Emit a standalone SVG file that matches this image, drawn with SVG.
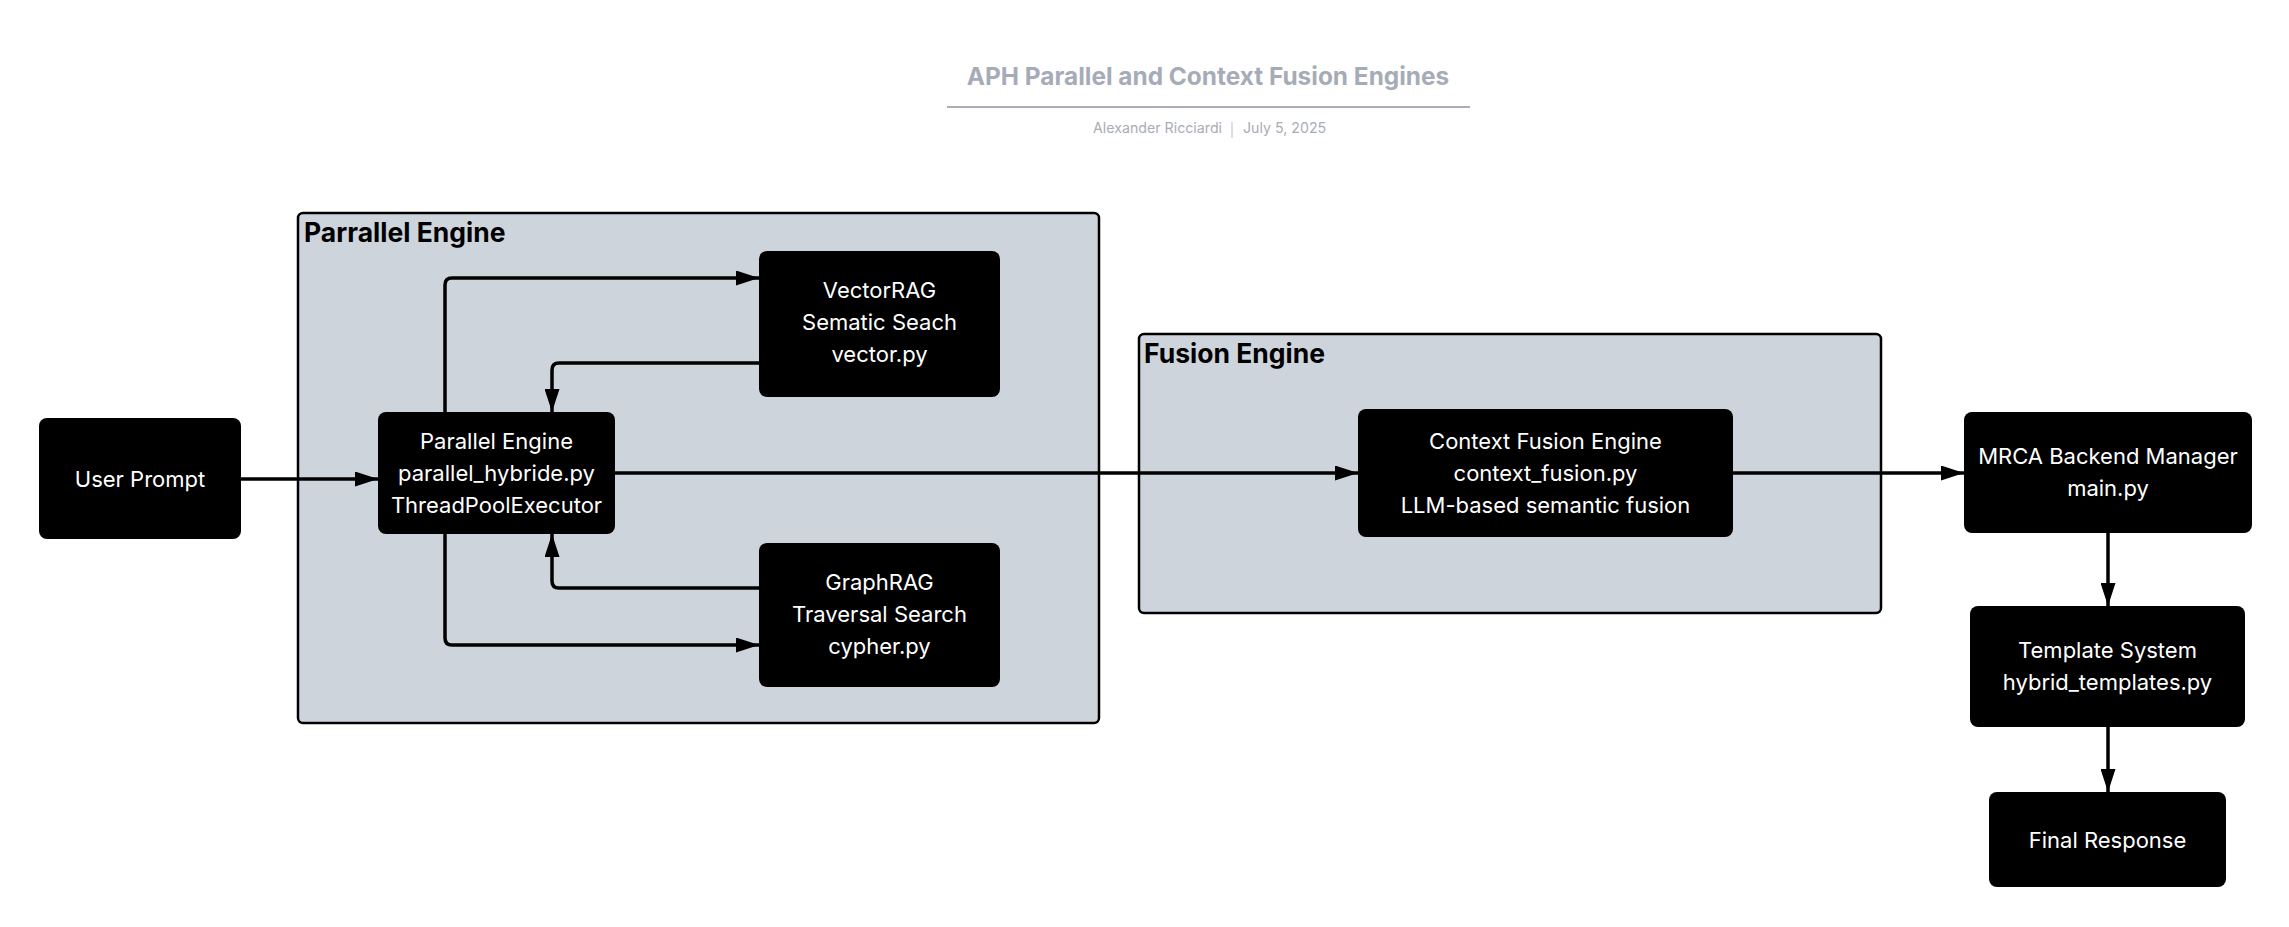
<svg xmlns="http://www.w3.org/2000/svg" width="2289" height="927" viewBox="0 0 2289 927">
<defs>
<style>
.cont{fill:#cdd4dc;stroke:#000;stroke-width:2.5}
.clabel{font-family:Inter,"Liberation Sans",sans-serif;font-weight:700;font-size:26.5px;fill:#000}
.node{fill:#000}
.nt{font-family:Inter,"Liberation Sans",sans-serif;font-size:22px;fill:#fff;text-anchor:middle}
.edge{fill:none;stroke:#000;stroke-width:3.5;stroke-linejoin:round}
.title{font-family:Inter,"Liberation Sans",sans-serif;font-weight:700;font-size:24.4px;fill:#a6acb7;text-anchor:middle}
.sub{font-family:Inter,"Liberation Sans",sans-serif;font-size:14.2px;fill:#a8adb6}
</style>
<marker id="ah" markerUnits="userSpaceOnUse" markerWidth="23" markerHeight="15" refX="23" refY="7.5" orient="auto">
<path d="M0,0 L23,7.5 L0,15 z" fill="#000"/>
</marker>
</defs>
<rect width="2289" height="927" fill="#fff"/>
<g id="header">
<text class="title" x="1208" y="85">APH Parallel and Context Fusion Engines</text>
<line x1="947" y1="107" x2="1470" y2="107" stroke="#a9aeb8" stroke-width="2"/>
<text class="sub" x="1222" y="133" text-anchor="end">Alexander Ricciardi</text>
<line x1="1232" y1="122" x2="1232" y2="138" stroke="#c4c8ce" stroke-width="1.2"/>
<text class="sub" x="1243" y="133">July 5, 2025</text>
</g>
<g id="parallel-engine-group">
<rect class="cont" x="298" y="213" width="801" height="510" rx="5"/>
<text class="clabel" x="304" y="242">Parrallel Engine</text>
</g>
<g id="fusion-engine-group">
<rect class="cont" x="1139" y="334" width="742" height="279" rx="5"/>
<text class="clabel" x="1144" y="363">Fusion Engine</text>
</g>
<g id="connectors">
<path class="edge" d="M241,479 H378" marker-end="url(#ah)"/>
<path class="edge" d="M445,412 V285 Q445,278 452,278 H759" marker-end="url(#ah)"/>
<path class="edge" d="M759,363 H559 Q552,363 552,370 V412" marker-end="url(#ah)"/>
<path class="edge" d="M445,534 V638 Q445,645 452,645 H759" marker-end="url(#ah)"/>
<path class="edge" d="M759,588 H559 Q552,588 552,581 V534" marker-end="url(#ah)"/>
<path class="edge" d="M615,473 H1358" marker-end="url(#ah)"/>
<path class="edge" d="M1733,473 H1964" marker-end="url(#ah)"/>
<path class="edge" d="M2108,533 V606" marker-end="url(#ah)"/>
<path class="edge" d="M2108,727 V792" marker-end="url(#ah)"/>
</g>
<g id="user-prompt">
<rect class="node" x="39" y="418" width="202" height="121" rx="8"/>
<text class="nt" x="140" y="487">User Prompt</text>
</g>
<g id="parallel-engine">
<rect class="node" x="378" y="412" width="237" height="122" rx="8"/>
<text class="nt" x="496.5" y="449">Parallel Engine</text>
<text class="nt" x="496.5" y="481">parallel_hybride.py</text>
<text class="nt" x="496.5" y="513">ThreadPoolExecutor</text>
</g>
<g id="vectorrag">
<rect class="node" x="759" y="251" width="241" height="146" rx="8"/>
<text class="nt" x="879.5" y="298">VectorRAG</text>
<text class="nt" x="879.5" y="330">Sematic Seach</text>
<text class="nt" x="879.5" y="362">vector.py</text>
</g>
<g id="graphrag">
<rect class="node" x="759" y="543" width="241" height="144" rx="8"/>
<text class="nt" x="879.5" y="590">GraphRAG</text>
<text class="nt" x="879.5" y="622">Traversal Search</text>
<text class="nt" x="879.5" y="654">cypher.py</text>
</g>
<g id="context-fusion">
<rect class="node" x="1358" y="409" width="375" height="128" rx="8"/>
<text class="nt" x="1545.5" y="449">Context Fusion Engine</text>
<text class="nt" x="1545.5" y="481">context_fusion.py</text>
<text class="nt" x="1545.5" y="513">LLM-based semantic fusion</text>
</g>
<g id="mrca-backend">
<rect class="node" x="1964" y="412" width="288" height="121" rx="8"/>
<text class="nt" x="2108" y="464">MRCA Backend Manager</text>
<text class="nt" x="2108" y="496">main.py</text>
</g>
<g id="template-system">
<rect class="node" x="1970" y="606" width="275" height="121" rx="8"/>
<text class="nt" x="2107.5" y="658">Template System</text>
<text class="nt" x="2107.5" y="690">hybrid_templates.py</text>
</g>
<g id="final-response">
<rect class="node" x="1989" y="792" width="237" height="95" rx="8"/>
<text class="nt" x="2107.5" y="848">Final Response</text>
</g>
</svg>
